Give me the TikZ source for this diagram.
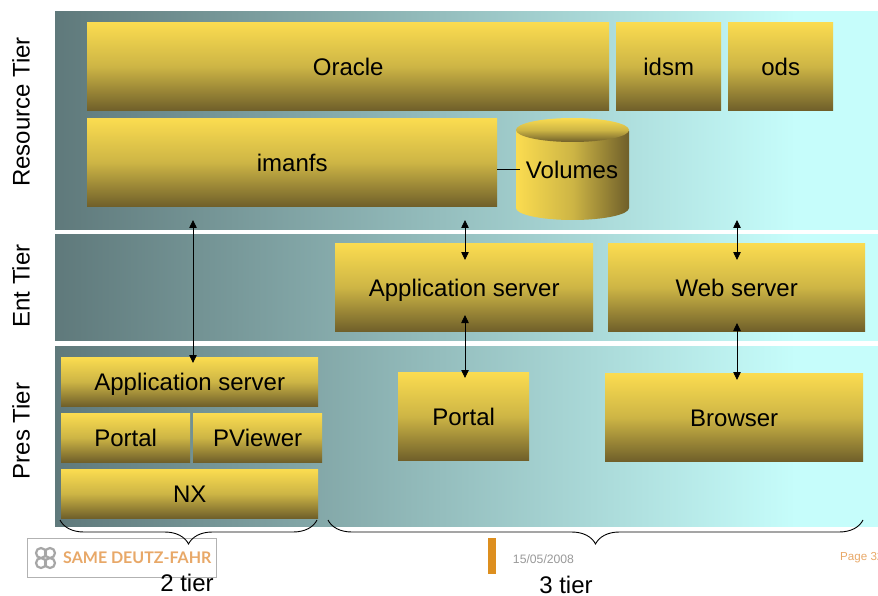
\documentclass[tikz,border=0pt]{standalone}
\usepackage{fontspec}
\setmainfont{Liberation Sans}
\newfontfamily\logofont{Lato}
\usetikzlibrary{arrows.meta,decorations.pathreplacing}
\definecolor{bandleft}{HTML}{5F797B}
\definecolor{bandright}{HTML}{C6FDFB}
\definecolor{boxtop}{HTML}{FBDC50}
\definecolor{boxmiddle}{HTML}{CDB545}
\definecolor{boxbottom}{HTML}{6F5F2A}
\definecolor{logoorange}{HTML}{E8A868}
\definecolor{barorange}{HTML}{DD8F1F}
\pgfdeclarehorizontalshading{bandshade}{100bp}{color(0bp)=(bandleft); color(25bp)=(bandleft); color(70bp)=(bandright); color(100bp)=(bandright)}
\tikzset{
  band/.style={shading=bandshade},
  tierbox/.style={top color=boxtop, bottom color=boxbottom, middle color=boxmiddle, font=\fontsize{24}{24}\selectfont, inner sep=0pt, text height=24pt, text depth=5pt, anchor=north west},
  shortbox/.style={tierbox, text height=22pt},
  tierlabel/.style={rotate=90, font=\fontsize{24}{24}\selectfont},
  tiertext/.style={font=\fontsize{24}{24}\selectfont, inner sep=0pt},
  link/.style={{Triangle[length=8pt,width=7.5pt]}-{Triangle[length=8pt,width=7.5pt]}, line width=0.8pt},
  tierbrace/.style={decorate, decoration={brace, mirror, amplitude=24pt}, line width=0.9pt}
}
\begin{document}
\begin{tikzpicture}[x=1pt,y=-1pt]
    \useasboundingbox (0,0) rectangle (878,596);

    % Bands
    \shade[band] (55,12) rectangle (878,230);
    \shade[band] (55,235) rectangle (878,340);
    \shade[band] (55,346) rectangle (878,526);

    % Tier labels
    \node[tierlabel] (restier) at (21,112) {Resource Tier};
    \node[tierlabel] (enttier) at (21,286) {Ent Tier};
    \node[tierlabel] (prestier) at (21,431) {Pres Tier};

    % Resource tier
    \node[tierbox, minimum width=522pt, minimum height=88.5pt] (oracle) at (87,22) {Oracle};
    \node[tierbox, minimum width=105pt, minimum height=88.5pt] (idsm) at (616,22) {idsm};
    \node[tierbox, minimum width=105pt, minimum height=88.5pt] (ods) at (728,22) {ods};
    \node[tierbox, minimum width=410pt, minimum height=88.5pt] (imanfs) at (87,118) {imanfs};

    % Volumes cylinder
    \shade[left color=boxtop, right color=boxbottom, middle color=boxmiddle] (516,131) -- (516,208)
        arc[start angle=180, end angle=360, x radius=56.5pt, y radius=12pt] -- (629,131) -- cycle;
    \begin{scope}
        \clip (572.5,130) ellipse[x radius=56.5pt, y radius=12pt];
        \shade[top color=boxtop, bottom color=boxbottom, middle color=boxmiddle] (516,118) rectangle (629,142);
    \end{scope}
    \node[font=\fontsize{24}{24}\selectfont, inner sep=6pt] (volumes) at (572,169.5) {Volumes};

    % Ent tier
    \node[tierbox, minimum width=258pt, minimum height=88.5pt] (appserver) at (335,243) {Application server};
    \node[tierbox, minimum width=257pt, minimum height=88.5pt] (webserver) at (608,243) {Web server};

    % Pres tier, 3 tier side
    \node[tierbox, minimum width=131pt, minimum height=88.5pt] (portal) at (398,372) {Portal};
    \node[tierbox, minimum width=258pt, minimum height=88.5pt] (browser) at (605,373) {Browser};

    % Pres tier, 2 tier side
    \node[shortbox, minimum width=257pt, minimum height=49pt] (appclient) at (61,357) {Application server};
    \node[shortbox, minimum width=129pt, minimum height=49pt] (portalclient) at (61,413) {Portal};
    \node[shortbox, minimum width=129pt, minimum height=49pt] (pviewer) at (193,413) {PViewer};
    \node[shortbox, minimum width=257pt, minimum height=49pt] (nx) at (61,469) {NX};

    % Arrow ends
    \coordinate (imanfsdown) at (193,220);
    \coordinate (appclientup) at (193,363);
    \coordinate (appup) at (465,220);
    \coordinate (appdown) at (465,260);
    \coordinate (webup) at (737,220);
    \coordinate (webdown) at (737,260);
    \coordinate (portalup) at (465,315);
    \coordinate (portaldown) at (465,378);
    \coordinate (browserup) at (737,323);
    \coordinate (browserdown) at (737,380);

    % Arrows
    \draw[link] (imanfsdown) -- (appclientup);
    \draw[link] (appup) -- (appdown);
    \draw[link] (webup) -- (webdown);
    \draw[link] (portalup) -- (portaldown);
    \draw[link] (browserup) -- (browserdown);
    \draw[line width=0.9pt] (imanfs.east |- volumes.west) -- (volumes.west);

    % Footer
    \node[draw=black!30, fill=white, line width=0.8pt, minimum width=189pt, minimum height=39pt, inner sep=0pt, anchor=north west] (logo) at (27,538) {};
    \node[font=\logofont\bfseries\fontsize{16}{16}\selectfont, text=logoorange, inner sep=0pt, anchor=west] (logotext) at (63,558) {SAME DEUTZ-FAHR};
    \draw[black!35, line width=2.2pt] (41,553) circle (5pt) (50,553) circle (5pt) (41,563) circle (5pt) (50,563) circle (5pt);
    \node[fill=barorange, minimum width=8pt, minimum height=36pt, inner sep=0pt, anchor=north west] (bar) at (488,538) {};
    \node[font=\fontsize{12.2}{13}\selectfont, text=black!40, inner sep=0pt] (date) at (543.5,559) {15/05/2008};
    \node[font=\fontsize{11.6}{12}\selectfont, text=logoorange, inner sep=0pt, anchor=west] (page) at (840,557.5) {Page 32};

    % Braces
    \coordinate (twoleft) at (60,520);
    \coordinate (tworight) at (317,520);
    \coordinate (threeleft) at (328,520);
    \coordinate (threeright) at (863,520);
    \draw[tierbrace] (twoleft) -- (tworight);
    \draw[tierbrace] (threeleft) -- (threeright);
    \node[tiertext] (twotier) at (187,583) {2 tier};
    \node[tiertext] (threetier) at (566,585) {3 tier};
\end{tikzpicture}
\end{document}
